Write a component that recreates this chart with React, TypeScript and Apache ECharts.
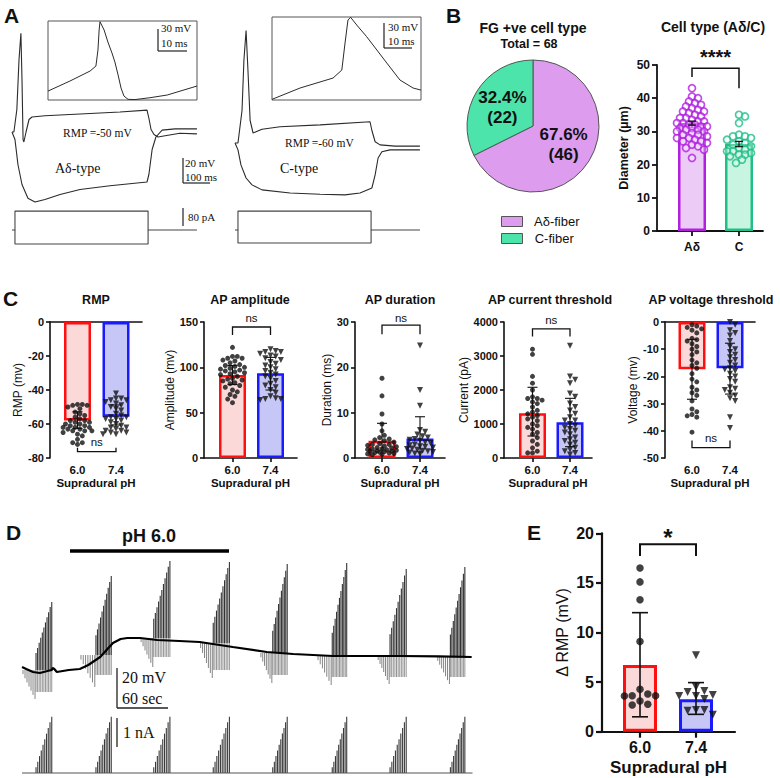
import React, { useEffect, useRef } from "react";
import * as echarts from "echarts";

const SANS = '"Liberation Sans", Arial, Helvetica, sans-serif';
const SERIF = '"Liberation Serif", "Times New Roman", Times, serif';
const INK = "#111111";
const TRACE = "#2b2b2b";

// ---------------- Panel A : current-clamp recordings (time ms, Vm mV) ----------------
const aDeltaDepol = [[0,-50],[7,-50],[18,-32],[26,8],[33,29],[37,-8],[41,-56],[44,-58],[52,-50],[63,-40],[74,-38],[122,-37],[252,-35.6],[400,-34],[500,-32.5],[507,-39],[515,-48],[526,-52],[541,-54],[567,-53],[622,-51],[685,-51.5]];
const aDeltaHyper = [[0,-50],[11,-56],[22,-76],[37,-92],[59,-103],[85,-106],[122,-104],[178,-100],[252,-96],[363,-93],[500,-90],[507,-84],[519,-64],[533,-54],[556,-48.5],[604,-47.5],[685,-47.5]];
const cTypeDepol = [[0,-60],[11,-60],[26,-34],[33,6],[41,30],[48,-2],[56,-42],[67,-52],[78,-51],[100,-49],[167,-47],[315,-45.5],[500,-43],[507,-50],[519,-59],[537,-61.5],[593,-62.5],[685,-62.5]];
const cTypeHyper = [[0,-60],[11,-65.5],[22,-77.5],[41,-88],[63,-93.5],[100,-97.5],[204,-100],[315,-101],[407,-101.5],[463,-100],[507,-96],[519,-85.5],[530,-72],[544,-67],[574,-65.5],[685,-65.5]];
const aDeltaSpike = [[0,-57.8],[7.5,-44.1],[14.4,-30.4],[16.4,-23.6],[17.1,-1.7],[17.5,25.7],[17.8,37],[19.2,25.7],[20.5,9.3],[21.9,-5.8],[22.9,-18.1],[24,-35.9],[25,-53.7],[26,-64.6],[27.4,-69.1],[29.8,-69.4],[34.9,-66.9],[40.8,-63.2],[51,-50.9]];
const cTypeSpike = [[0,-69.1],[9.6,-53.7],[20.9,-40.1],[23.9,-29.2],[25,7.6],[26,38.9],[26.9,42.6],[29,32.1],[32.4,16.2],[35.9,-2],[39.3,-19.7],[43.8,-42.8],[48.3,-53.7],[51,-56.5]];
// injected current steps (pA)
const aDeltaStepPos = [[0,0],[11,0],[11,84],[504,84],[504,0],[685,0]];
const aDeltaStepNeg = [[11,0],[11,-62],[504,-62],[504,0]];
const cTypeStepPos = [[0,0],[11,0],[11,84],[504,84],[504,0],[685,0]];
const cTypeStepNeg = [[11,0],[11,-58],[504,-58],[504,0]];

// ---------------- Panel B ----------------
const fiberNames = ["Aδ-fiber", "C-fiber"];
const fiberCounts = [46, 22];
const diamCats = ["Aδ", "C"];
const diamMeans = [32.5, 26.2];
const diamErrLo = [31.9, 25.4];
const diamErrHi = [33.1, 27.0];
const diamAdelta = [43,40.5,40,39,38.5,38,37.5,37,36.5,36,36,35.5,35,34.5,34,34,33.5,33,33,32.5,32.5,32,32,31.5,31.5,31,31,30.5,30.5,30,30,29.5,29,29,28.5,28,28,27.5,27,27,26.5,26,25.5,25,24.5,22];
const diamC = [35,34.5,32.5,29,28.5,28.5,28,27.5,27,26.5,26,25.5,25,24.5,24,24,23.5,23,23,22.5,21.5,20.5];

// ---------------- Panel C ----------------
const phCats = ["6.0", "7.4"];
const rmpMeans = [-58, -55.7];
const rmpErrLo = [-62.6, -60.6];
const rmpErrHi = [-52.8, -48.8];
const rmp60 = [-48.5,-48.5,-49,-49,-50,-51,-53,-54,-55,-56,-57,-58,-58,-59,-59,-60,-60,-61,-61,-62,-62,-62,-63,-63,-64,-64,-64,-65,-66,-67,-69,-71,-71,-72];
const rmp74 = [-42,-45,-45,-46,-46,-47,-48,-49,-50,-51,-52,-54,-55,-56,-56,-57,-57,-58,-59,-60,-61,-62,-62,-63,-64,-64,-65,-65,-66,-66];
const ampMeans = [91.5, 93.4];
const ampErrLo = [81, 75];
const ampErrHi = [102, 111];
const amp60 = [122,112,112,110,110,108,107,105,103,102,101,100,99,98,97,96,95,94,93,92,90,88,87,86,85,83,82,80,78,75,73,70,68,65,61];
const amp74 = [120,118,117,117,115,113,112,110,108,106,104,102,100,98,96,94,92,90,88,85,82,80,78,75,72,68,66,65,65,64];
const durMeans = [3.8, 4.3];
const durErrLo = [0, 0];
const durErrHi = [7.65, 9.1];
const dur60 = [17.6,13.7,9.7,7.5,6,5,4.5,4.2,4,3.8,3.5,3.2,3,3,2.8,2.6,2.5,2.3,2.2,2,2,1.9,1.8,1.7,1.6,1.5,1.5,1.4,1.3,1.2,1.1,1,0.9,0.8,0.7];
const dur74 = [24.8,15,11.5,6.2,5.8,5.2,4.8,4.5,4.2,4,3.8,3.5,3.3,3,2.8,2.6,2.5,2.3,2.1,2,1.8,1.6,1.5,1.3,1.2,1,0.9];
const curMeans = [1315, 1050];
const curErrLo = [647, 333];
const curErrHi = [2080, 1755];
const cur60 = [3200,3050,2400,2200,2000,1800,1750,1750,1700,1650,1600,1500,1400,1350,1300,1250,1200,1150,1100,1000,950,900,850,750,700,600,500,400,300,200,150,150];
const cur74 = [3300,2400,2300,2200,1900,1800,1600,1500,1400,1300,1200,1100,1100,1000,950,900,850,800,750,700,600,550,500,450,400,300,250,200,150,100];
const volMeans = [-17.4, -17.0];
const volErrLo = [-28.4, -26.5];
const volErrHi = [-6.4, -7.8];
const vol60 = [-1,-1.5,-2,-2.5,-3,-4,-6,-6.5,-7,-8,-9,-10,-11,-12,-14,-15,-16,-17,-19,-21,-22,-24,-25,-26,-27,-29,-32,-33,-34,-34.5,-35,-40.5];
const vol74 = [0,-1,-3,-4,-5,-7,-9,-10,-11,-12,-13,-14,-15,-16,-17,-17.5,-18,-19,-20,-21,-22,-24,-24.5,-25,-26,-27,-28,-29,-35,-39];

// ---------------- Panel D : Vm trace (s, ΔmV) and ramp bursts ----------------
const vmTrace = [[0,0],[5,-1],[13,-2.5],[21,-3],[30,-2],[35,-1.5],[36,-0.5],[38,-1],[41,-2.5],[55,-1.5],[68,-1],[78,1],[92,5],[107,12],[116,14],[124,14.5],[139,14.5],[159,13.5],[185,13],[209,12.5],[248,10],[288,7.5],[319,6.5],[366,5.5],[445,5.5],[490,5.3],[529,5]];
const burstPreStart = [0,68,139,209,280,347,418,488];
const burstSpikeStart = [16.5,87,155,225,295,365,433,504];
const burstSpikeEnd = [35,105,174,244,312,382,452,521];
const burstBase = [-1.5,6,14.5,12,7,5.5,5.5,5];
const burstPeak = [32.5,45.5,53,52.5,51.5,52,49,50];
const burstTrough = [-12.5,-4,5,-1.5,-4,-5,-5,-5];
const burstPreTrough = [-16,-10,0,-5.5,-8,-9,-8.5,-8.5];
const rampPeakNA = [1.94,1.94,1.94,1.94,1.94,1.94,1.94,1.94];

// ---------------- Panel E ----------------
const dRmpMeans = [6.72, 3.26];
const dRmpErrLo = [1.5, 1.75];
const dRmpErrHi = [12.0, 4.95];
const dRmp60 = [16.5,15.1,13.3,9.1,4.27,3.8,3.63,3.63,3.6,3.09,2.76,2.7];
const dRmp74 = [7.7,4.5,4.1,4.0,3.7,3.6,3.6,3.3,2.2,2.1,2.2,1.7];

const RED = "#ff1010";
const RED_FILL = "#fcd9d9";
const BLUE = "#1a1aff";
const BLUE_FILL = "#c6c6f7";

// column-scatter layout: points spread sideways within a maximum half-width
function swarm(vals: number[], cat: number, pxY: number, pxX: number, d: number, half: number) {
  const idx = vals.map((_, i) => i).sort((a, b) => vals[b] - vals[a]);
  const placed: number[][] = [];
  const out: number[][] = [];
  const step = d * 0.5;
  const nMax = Math.floor(half / step);
  idx.forEach((i) => {
    const y = vals[i] * pxY;
    let best = 0;
    let bestScore = -1;
    for (let s = 0; s <= nMax * 2; s++) {
      const k = Math.ceil(s / 2) * (s % 2 === 1 ? 1 : -1);
      const cand = k * step;
      let minD = Infinity;
      for (const p of placed) {
        const dx = p[0] - cand;
        const dy = p[1] - y;
        minD = Math.min(minD, Math.sqrt(dx * dx + dy * dy));
      }
      if (minD >= d * 0.96) { best = cand; bestScore = Infinity; break; }
      if (minD > bestScore) { bestScore = minD; best = cand; }
    }
    placed.push([best, y]);
    out.push([cat + best / pxX, vals[i]]);
  });
  return out;
}

function seg(a: number[], b: number[], stroke: string, w: number) {
  return { type: "line", shape: { x1: a[0], y1: a[1], x2: b[0], y2: b[1] }, style: { stroke, lineWidth: w } };
}

function addBarChart(o: any, c: any) {
  const gi = o.grid.length;
  o.grid.push({ left: c.left, top: c.top, width: c.width, height: c.height, containLabel: false, outerBoundsMode: "none" });
  const xMin = -c.c0 / c.spacing;
  const xMax = xMin + c.width / c.spacing;
  const ls = { color: INK, width: c.lw };
  const xi = o.xAxis.length;
  o.xAxis.push({
    type: "value", gridIndex: gi, min: xMin, max: xMax, position: "bottom",
    axisLine: { show: !c.topLine, onZero: false, lineStyle: ls },
    axisTick: { show: !c.topLine, customValues: [0, 1], length: c.tickLen, lineStyle: ls },
    axisLabel: {
      customValues: [0, 1], margin: c.catMargin, color: INK, fontWeight: "bold", fontSize: c.catFont, fontFamily: SANS,
      formatter: (v: number) => (Math.abs(v - Math.round(v)) < 1e-6 && c.cats[Math.round(v)] !== undefined ? c.cats[Math.round(v)] : ""),
    },
    splitLine: { show: false },
    name: c.xName || "", nameLocation: "middle", nameGap: c.xNameGap || 20,
    nameTextStyle: { color: INK, fontWeight: "bold", fontSize: c.xNameFont || 11, fontFamily: SANS },
  });
  if (c.topLine) {
    o.xAxis.push({
      type: "value", gridIndex: gi, min: xMin, max: xMax, position: "top",
      axisLine: { show: true, onZero: false, lineStyle: ls }, axisTick: { show: false }, axisLabel: { show: false }, splitLine: { show: false },
    });
  }
  const yi = o.yAxis.length;
  o.yAxis.push({
    type: "value", gridIndex: gi, min: c.yMin, max: c.yMax, interval: c.yInterval,
    axisLine: { show: true, onZero: false, lineStyle: ls },
    axisTick: { show: true, length: c.tickLen, lineStyle: ls },
    axisLabel: { margin: c.tickMargin, color: INK, fontWeight: "bold", fontSize: c.tickFont, fontFamily: SANS, formatter: (v: number) => String(v) },
    splitLine: { show: false },
    name: c.yName, nameLocation: "middle", nameGap: c.yNameGap,
    nameTextStyle: { color: INK, fontWeight: c.yNameWeight || "normal", fontSize: c.yNameFont, fontFamily: SANS },
  });
  o.series.push({
    type: "bar", xAxisIndex: xi, yAxisIndex: yi, barWidth: c.barW, silent: true, z: 2,
    data: c.means.map((m: number, i: number) => ({ value: [i, m], itemStyle: { color: c.fill[i], borderColor: c.border[i], borderWidth: c.bw } })),
  });
  const pxY = c.height / (c.yMax - c.yMin);
  c.pts.forEach((vals: number[], i: number) => {
    const m = c.markers[i];
    o.series.push({
      type: "scatter", xAxisIndex: xi, yAxisIndex: yi, silent: true, z: 3,
      symbol: m.symbol, symbolSize: m.size, symbolRotate: m.rotate || 0,
      itemStyle: m.open ? { color: "rgba(255,255,255,0.35)", borderColor: c.border[i], borderWidth: m.bw } : { color: m.color },
      data: swarm(vals, i, pxY, c.spacing, m.d, c.spread),
    });
  });
  o.series.push({
    type: "custom", xAxisIndex: xi, yAxisIndex: yi, silent: true, z: 4, clip: false,
    data: c.means.map((m: number, i: number) => [i, m, c.errLo[i], c.errHi[i]]),
    renderItem: (_p: any, api: any) => {
      const x = api.value(0);
      const lo = api.value(2);
      const pHi = api.coord([x, api.value(3)]);
      const pLo = api.coord([x, lo]);
      const w = c.capW / 2;
      const ch: any[] = [seg(pLo, pHi, INK, c.errLW), seg([pHi[0] - w, pHi[1]], [pHi[0] + w, pHi[1]], INK, c.errLW)];
      if (lo > c.yMin) ch.push(seg([pLo[0] - w, pLo[1]], [pLo[0] + w, pLo[1]], INK, c.errLW));
      return { type: "group", children: ch };
    },
  });
  o.series.push({
    type: "custom", xAxisIndex: xi, yAxisIndex: yi, silent: true, z: 4, clip: false,
    data: [[0, 1, c.bracket[0], c.bracket[1], c.bracket[2], c.sigY]],
    renderItem: (_p: any, api: any) => {
      const a = api.coord([api.value(0), api.value(3)]);
      const b = api.coord([api.value(0), api.value(2)]);
      const d = api.coord([api.value(1), api.value(2)]);
      const e = api.coord([api.value(1), api.value(4)]);
      const t = api.coord([(api.value(0) + api.value(1)) / 2, api.value(5)]);
      return {
        type: "group",
        children: [
          { type: "polyline", shape: { points: [a, b, d, e] }, style: { stroke: INK, lineWidth: c.brLW, fill: "none" } },
          { type: "text", x: t[0], y: t[1], style: { text: c.sig, fontSize: c.sigFont, fontWeight: c.sigWeight, fontFamily: SANS, fill: INK, align: "center", verticalAlign: "middle", textAlign: "center", textVerticalAlign: "middle" } },
        ],
      };
    },
  });
}

function addTraceGrid(o: any, box: number[], xr: number[], yr: number[], border: boolean) {
  const gi = o.grid.length;
  o.grid.push({ left: box[0], top: box[1], width: box[2], height: box[3], show: border, borderColor: "#555", borderWidth: 1, backgroundColor: "transparent", containLabel: false, outerBoundsMode: "none" });
  o.xAxis.push({ type: "value", gridIndex: gi, min: xr[0], max: xr[1], show: false });
  o.yAxis.push({ type: "value", gridIndex: gi, min: yr[0], max: yr[1], show: false });
  return [o.xAxis.length - 1, o.yAxis.length - 1];
}

function lineSeries(ax: number[], data: number[][], color: string, width: number) {
  return { type: "line", xAxisIndex: ax[0], yAxisIndex: ax[1], data, showSymbol: false, symbol: "none", silent: true, lineStyle: { color, width }, z: 5 };
}

function txt(x: number, y: number, text: string, size: number, opt: any = {}) {
  const align = opt.align || "left";
  return {
    type: "text", x, y, silent: true, z: 10,
    style: { text, fontSize: size, fontWeight: opt.weight || "normal", fontFamily: opt.family || SANS, fill: opt.color || INK, align, verticalAlign: "middle", textAlign: align, textVerticalAlign: "middle" },
  };
}
function gline(x1: number, y1: number, x2: number, y2: number, w = 1.2, c = "#222") {
  return { type: "line", silent: true, z: 10, shape: { x1, y1, x2, y2 }, style: { stroke: c, lineWidth: w } };
}

function buildOption() {
  const o: any = { grid: [], xAxis: [], yAxis: [], series: [] };

  // ----- Panel A traces -----
  const aL = addTraceGrid(o, [12, 19.5, 189, 250], [0, 700], [-160, 40], false);
  const aLI = addTraceGrid(o, [12, 203, 189, 54], [0, 700], [-120, 120], false);
  const aLIn = addTraceGrid(o, [48, 21, 149, 79], [0, 51], [-70, 38], true);
  const aR = addTraceGrid(o, [235, 18, 189, 250], [0, 700], [-160, 40], false);
  const aRI = addTraceGrid(o, [235, 203, 189, 54], [0, 700], [-120, 120], false);
  const aRIn = addTraceGrid(o, [272, 17, 149, 83], [0, 51], [-70, 43], true);
  o.series.push(lineSeries(aL, aDeltaDepol, TRACE, 1.1), lineSeries(aL, aDeltaHyper, TRACE, 1.1));
  o.series.push(lineSeries(aLI, aDeltaStepPos, "#444", 1.1), lineSeries(aLI, aDeltaStepNeg, "#444", 1.1));
  o.series.push(lineSeries(aLIn, aDeltaSpike, TRACE, 1));
  o.series.push(lineSeries(aR, cTypeDepol, TRACE, 1.1), lineSeries(aR, cTypeHyper, TRACE, 1.1));
  o.series.push(lineSeries(aRI, cTypeStepPos, "#444", 1.1), lineSeries(aRI, cTypeStepNeg, "#444", 1.1));
  o.series.push(lineSeries(aRIn, cTypeSpike, TRACE, 1));

  // ----- Panel B pie -----
  o.series.push({
    type: "pie", center: [533, 126], radius: 66, startAngle: 90, clockwise: true, percentPrecision: 1, silent: true,
    itemStyle: { borderColor: "#555", borderWidth: 1 },
    label: {
      show: true, position: "inside", color: INK, fontWeight: "bold", fontSize: 17, lineHeight: 20, fontFamily: SANS,
      formatter: (p: any) => `${p.percent.toFixed(1)}%\n(${p.value})`,
    },
    labelLine: { show: false },
    emphasis: { disabled: true },
    data: fiberNames.map((n, i) => ({ name: n, value: fiberCounts[i], itemStyle: { color: ["#de9cef", "#4ce4ab"][i] } })),
  });

  // ----- Panel B bar -----
  addBarChart(o, {
    left: 657, top: 65, width: 106, height: 166, c0: 35, spacing: 47,
    yMin: 0, yMax: 50, yInterval: 10, cats: diamCats, means: diamMeans, errLo: diamErrLo, errHi: diamErrHi,
    pts: [diamAdelta, diamC], border: ["#b020de", "#1fbf86"], fill: ["#ecccf7", "#c8f4e2"],
    markers: [{ symbol: "circle", size: 7, open: true, bw: 1.7, d: 6 }, { symbol: "circle", size: 7, open: true, bw: 1.7, d: 6 }],
    spread: 16,
    barW: 28, bw: 2.5, lw: 1.8, tickLen: 5, tickMargin: 7, tickFont: 12, catFont: 12, catMargin: 10,
    yName: "Diameter (µm)", yNameGap: 27, yNameFont: 12.5, yNameWeight: "bold",
    capW: 8, errLW: 1.2, bracket: [49, 46.4, 43], sig: "****", sigY: 52.3, sigFont: 20, sigWeight: "bold", brLW: 1.5,
  });

  // ----- Panel C -----
  const cCommon = {
    top: 322, height: 136, barW: 27, bw: 2.5, lw: 1.6, tickLen: 4, tickMargin: 6, tickFont: 11, catFont: 11.5, catMargin: 6,
    xName: "Supradural pH", xNameGap: 16, xNameFont: 11.5, yNameFont: 12, cats: phCats,
    border: [RED, BLUE], fill: [RED_FILL, BLUE_FILL],
    markers: [{ symbol: "circle", size: 5, color: "#111", d: 4.8 }, { symbol: "triangle", size: 6, rotate: 180, color: "#111", d: 5.2 }],
    spread: 15,
    capW: 10, errLW: 1.1, sig: "ns", sigFont: 11.5, sigWeight: "normal", brLW: 1.3,
  };
  addBarChart(o, { ...cCommon, left: 50, width: 92, c0: 27.5, spacing: 38.5, yMin: -80, yMax: 0, yInterval: 20, topLine: true,
    means: rmpMeans, errLo: rmpErrLo, errHi: rmpErrHi, pts: [rmp60, rmp74], yName: "RMP (mv)", yNameGap: 25,
    bracket: [-76.3, -74, -74], sigY: -70.8 });
  addBarChart(o, { ...cCommon, left: 204, width: 93, c0: 28.5, spacing: 38, yMin: 0, yMax: 150, yInterval: 50,
    means: ampMeans, errLo: ampErrLo, errHi: ampErrHi, pts: [amp60, amp74], yName: "Amplitude (mv)", yNameGap: 26,
    bracket: [144.5, 135.6, 135.6], sigY: 154.5 });
  addBarChart(o, { ...cCommon, left: 355, width: 90, c0: 27, spacing: 38, yMin: 0, yMax: 30, yInterval: 10,
    means: durMeans, errLo: durErrLo, errHi: durErrHi, pts: [dur60, dur74], yName: "Duration (ms)", yNameGap: 21,
    bracket: [29.3, 27.3, 27.3], sigY: 30.9 });
  addBarChart(o, { ...cCommon, left: 504, width: 88, c0: 28.5, spacing: 37.5, yMin: 0, yMax: 4000, yInterval: 1000,
    means: curMeans, errLo: curErrLo, errHi: curErrHi, pts: [cur60, cur74], yName: "Current (pA)", yNameGap: 32,
    bracket: [3800, 3570, 3570], sigY: 4060 });
  addBarChart(o, { ...cCommon, left: 665, width: 90, c0: 27, spacing: 38, yMin: -50, yMax: 0, yInterval: 10, topLine: true,
    means: volMeans, errLo: volErrLo, errHi: volErrHi, pts: [vol60, vol74], yName: "Voltage (mv)", yNameGap: 25,
    bracket: [-46.2, -43.6, -43.6], sigY: -42.5 });

  // ----- Panel D -----
  const dV = addTraceGrid(o, [22, 547, 450.5, 170], [0, 530], [-25, 60], false);
  const dI = addTraceGrid(o, [22, 709.2, 450.5, 69.6], [0, 530], [-0.2, 2.2], false);
  o.series.push({
    type: "custom", xAxisIndex: dV[0], yAxisIndex: dV[1], silent: true, clip: false, z: 3,
    data: burstPreStart.map((p, i) => [p, burstSpikeStart[i], burstSpikeEnd[i], burstBase[i], burstPeak[i], burstTrough[i], burstPreTrough[i]]),
    renderItem: (_p: any, api: any) => {
      const t0 = api.value(0), t1 = api.value(1), t2 = api.value(2), base = api.value(3), peak = api.value(4), trough = api.value(5), preT = api.value(6);
      const ch: any[] = [];
      const nPre = 7;
      for (let i = 0; i < nPre; i++) {
        const t = t0 + ((t1 - t0) * (i + 0.5)) / nPre;
        const dep = base + ((preT - base) * (i + 1)) / nPre;
        ch.push(seg(api.coord([t, base]), api.coord([t, dep]), "#777", 0.9));
      }
      const n = 11;
      for (let i = 0; i < n; i++) {
        const t = t1 + ((t2 - t1) * i) / (n - 1);
        const f = 0.25 + (0.75 * i) / (n - 1);
        const top = base + (peak - base) * f;
        ch.push(seg(api.coord([t, trough]), api.coord([t, base]), "#8a8a8a", 0.9));
        ch.push(seg(api.coord([t, base]), api.coord([t, top]), "#333", 1.1));
      }
      return { type: "group", children: ch };
    },
  });
  o.series.push(lineSeries(dV, vmTrace, "#000", 2.2));
  o.series.push(lineSeries(dI, [[0, 0], [530, 0]], "#555", 1));
  o.series.push({
    type: "custom", xAxisIndex: dI[0], yAxisIndex: dI[1], silent: true, clip: false, z: 3,
    data: burstSpikeStart.map((s, i) => [s, burstSpikeEnd[i], rampPeakNA[i]]),
    renderItem: (_p: any, api: any) => {
      const t1 = api.value(0), t2 = api.value(1), pk = api.value(2);
      const ch: any[] = [];
      const n = 10;
      for (let i = 0; i < n; i++) {
        const t = t1 + ((t2 - t1) * i) / (n - 1);
        ch.push(seg(api.coord([t, 0]), api.coord([t, (pk * (i + 1)) / n]), "#3a3a3a", 1.1));
      }
      return { type: "group", children: ch };
    },
  });

  // ----- Panel E -----
  addBarChart(o, {
    left: 602, top: 533.3, width: 133, height: 198.4, c0: 38, spacing: 56,
    yMin: 0, yMax: 20, yInterval: 5, cats: phCats, means: dRmpMeans, errLo: dRmpErrLo, errHi: dRmpErrHi,
    pts: [dRmp60, dRmp74], border: [RED, BLUE], fill: [RED_FILL, BLUE_FILL],
    markers: [{ symbol: "circle", size: 7.5, color: "#111", d: 7.8 }, { symbol: "triangle", size: 8, rotate: 180, color: "#111", d: 8.4 }],
    spread: 18,
    barW: 34, bw: 3, lw: 2.2, tickLen: 6, tickMargin: 8, tickFont: 16, catFont: 16, catMargin: 8,
    xName: "Supradural pH", xNameGap: 27, xNameFont: 17,
    yName: "Δ RMP (mV)", yNameGap: 32, yNameFont: 16,
    capW: 16, errLW: 1.6, bracket: [18.9, 17.7, 17.7], sig: "*", sigY: 19.6, sigFont: 24, sigWeight: "bold", brLW: 2,
  });

  const graphic: any[] = [
    // panel letters
    txt(4, 15, "A", 21, { weight: "bold" }),
    txt(446, 15, "B", 21, { weight: "bold" }),
    txt(3, 298, "C", 21, { weight: "bold" }),
    txt(6, 532, "D", 21, { weight: "bold" }),
    txt(527, 532, "E", 21, { weight: "bold" }),
    // A annotations
    txt(63, 133, "RMP =-50 mV", 11.5, { family: SERIF }),
    txt(55, 168, "Aδ-type", 14, { family: SERIF }),
    txt(285, 143, "RMP =-60 mV", 11.5, { family: SERIF }),
    txt(280, 168, "C-type", 14, { family: SERIF }),
    gline(158, 29, 158, 51), gline(158, 51, 187, 51),
    txt(161, 28, "30 mV", 11, { family: SERIF }),
    txt(161, 43, "10 ms", 11, { family: SERIF }),
    gline(384, 23, 384, 48), gline(384, 48, 412, 48),
    txt(388, 27, "30 mV", 11, { family: SERIF }),
    txt(388, 41, "10 ms", 11, { family: SERIF }),
    gline(183, 158, 183, 183), gline(183, 183, 210, 183),
    txt(185, 163, "20 mV", 11, { family: SERIF }),
    txt(185, 177, "100 ms", 11, { family: SERIF }),
    gline(183, 208, 183, 226),
    txt(188, 217, "80 pA", 11, { family: SERIF }),
    // B titles
    txt(533, 28, "FG +ve cell type", 14, { weight: "bold", align: "center" }),
    txt(529, 44, "Total = 68", 12.5, { weight: "bold", align: "center" }),
    txt(713, 27, "Cell type (Aδ/C)", 14, { weight: "bold", align: "center" }),
    // C titles
    txt(96, 300, "RMP", 12.5, { weight: "bold", align: "center" }),
    txt(250, 300, "AP amplitude", 12.5, { weight: "bold", align: "center" }),
    txt(400, 300, "AP duration", 12.5, { weight: "bold", align: "center" }),
    txt(550, 300, "AP current threshold", 12.5, { weight: "bold", align: "center" }),
    txt(711, 300, "AP voltage threshold", 12.5, { weight: "bold", align: "center" }),
    // D annotations
    txt(149, 536, "pH 6.0", 18, { weight: "bold", align: "center" }),
    gline(70, 551, 229, 551, 3.5, "#000"),
    gline(117, 668, 117, 708, 1.3), gline(117, 708, 168, 708, 1.3),
    txt(122, 677, "20 mV", 16, { family: SERIF }),
    txt(122, 698, "60 sec", 16, { family: SERIF }),
    gline(117, 718, 117, 747, 1.3),
    txt(123, 732, "1 nA", 16, { family: SERIF }),
  ];

  return {
    animation: false,
    backgroundColor: "#ffffff",
    textStyle: { fontFamily: SANS },
    grid: o.grid,
    xAxis: o.xAxis,
    yAxis: o.yAxis,
    series: o.series,
    legend: {
      data: fiberNames, orient: "vertical", left: 496, top: 210, itemWidth: 21, itemHeight: 10, itemGap: 4, icon: "rect",
      selectedMode: false, formatter: (n: string) => "  " + n,
      textStyle: { fontSize: 13, color: INK, fontFamily: SANS },
      itemStyle: { borderColor: "#555", borderWidth: 1 },
    },
    graphic,
  };
}

export default function App() {
  const ref = useRef<HTMLDivElement>(null);
  useEffect(() => {
    if (!ref.current) return;
    const chart = echarts.init(ref.current, undefined, { renderer: "svg", width: 780, height: 778 });
    chart.setOption(buildOption() as any);
    return () => chart.dispose();
  }, []);
  return <div ref={ref} style={{ position: "absolute", left: 0, top: 0, width: 780, height: 778, background: "#fff" }} />;
}
